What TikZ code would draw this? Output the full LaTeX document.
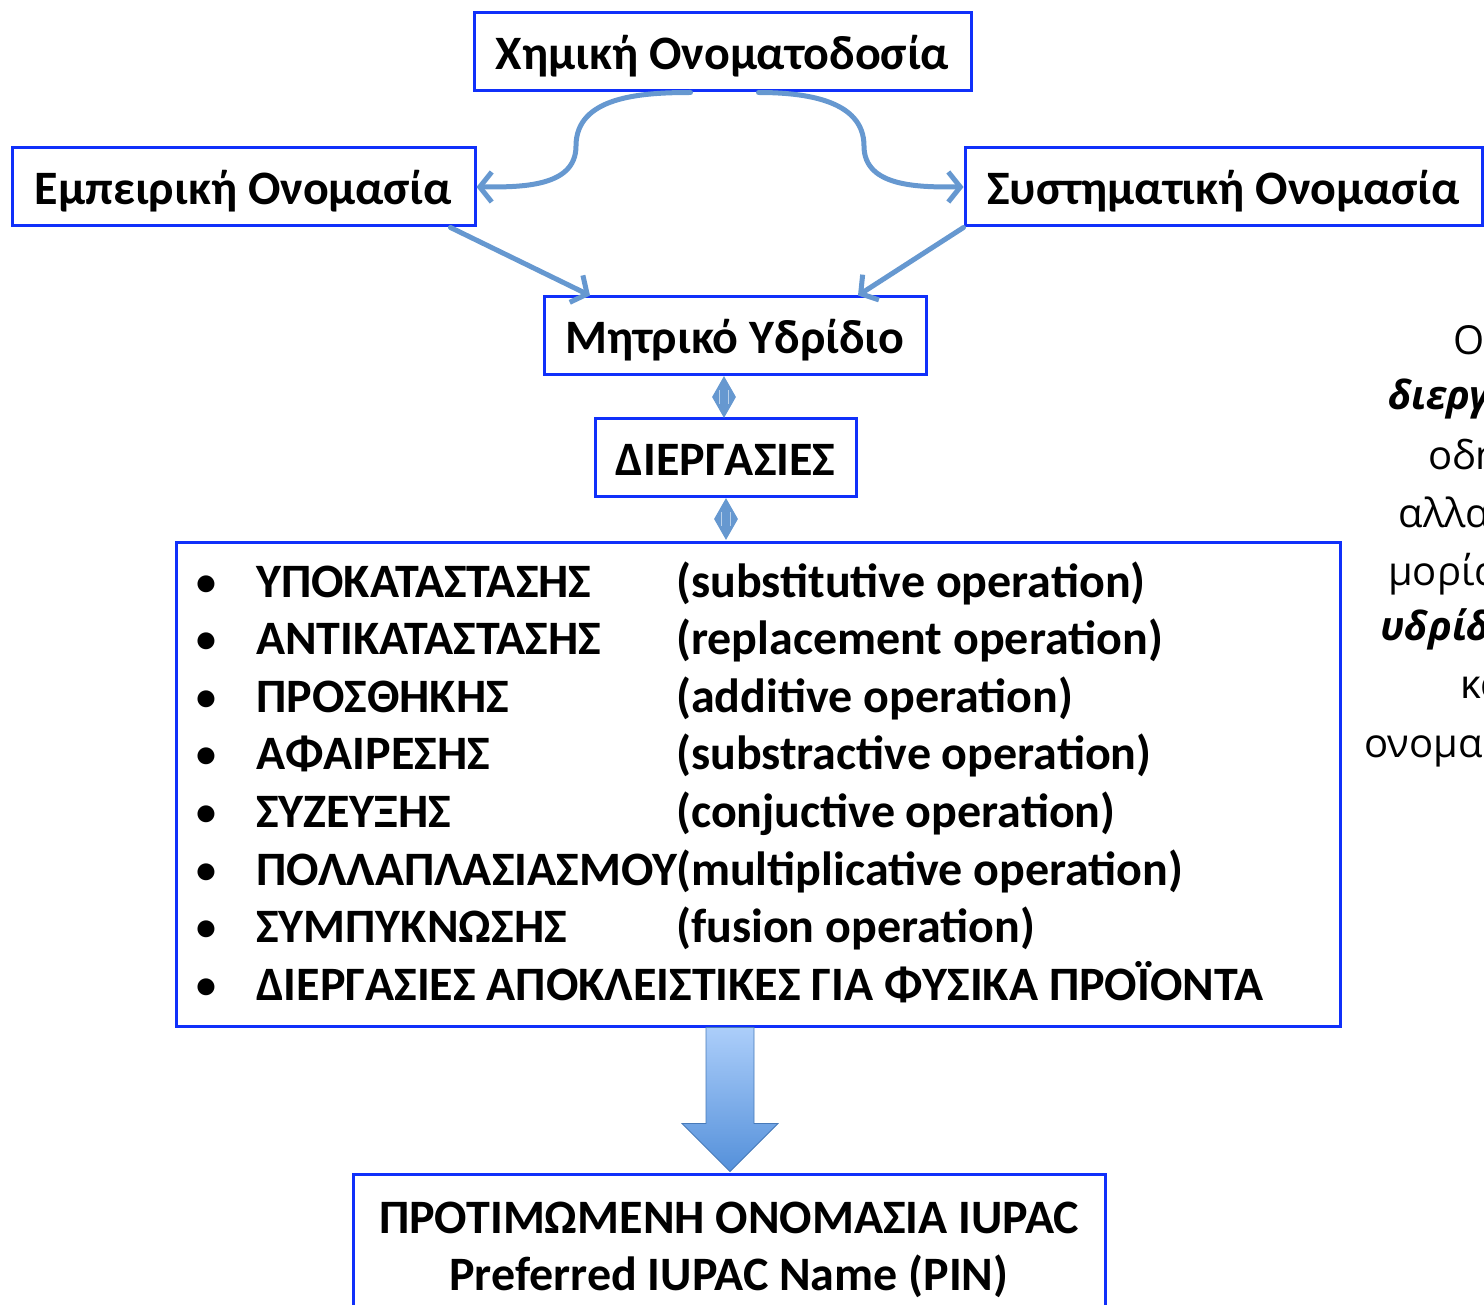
\documentclass[tikz,border=0pt]{standalone}
\usepackage{fontspec}
\setmainfont{Carlito}
\newfontfamily\sidefont{Open Sans}
\usetikzlibrary{positioning,arrows.meta,shapes.geometric}

\definecolor{boxblue}{RGB}{16,48,250}
\definecolor{connblue}{RGB}{102,152,208}
\definecolor{arrtop}{RGB}{172,206,250}
\definecolor{arrbot}{RGB}{84,144,218}

\tikzset{
  box/.style={draw=boxblue, line width=3pt, fill=white, inner sep=0pt,
              text height=35pt, text depth=0pt,
              font=\bfseries\fontsize{48}{54}\selectfont},
  conn/.style={draw=connblue, line width=5pt, line cap=round,
               -{Straight Barb[length=12pt,width=30pt]}},
  updown/.style={diamond, fill=connblue, inner sep=0pt,
                 minimum width=24pt, minimum height=42pt},
  item/.style={anchor=base west, inner sep=0pt,
               font=\bfseries\fontsize{48}{54}\selectfont},
  bullet/.style={anchor=base west, inner sep=0pt,
               font=\bfseries\fontsize{40}{54}\selectfont},
  side/.style={anchor=base west, inner sep=0pt,
               font=\sidefont\fontsize{40}{48}\selectfont}
}

\begin{document}
\begin{tikzpicture}[x=1pt,y=-1pt]
  \clip (0,0) rectangle (1484,1305);
  \useasboundingbox (0,0) rectangle (1484,1305);

  % boxes
  \node[box, minimum width=497pt, minimum height=78pt] (title)  at (722.5,52)  {Χημική Ονοματοδοσία};
  \node[box, minimum width=463pt, minimum height=78pt] (empir)  at (243.5,187) {Εμπειρική Ονομασία};
  \node[box, minimum width=517pt, minimum height=78pt] (syst)   at (1223.5,187) {Συστηματική Ονομασία};
  \node[box, minimum width=382pt, minimum height=78pt] (parent) at (735,336)   {Μητρικό Υδρίδιο};
  \node[box, minimum width=261pt, minimum height=78pt] (proc)   at (725.5,458) {ΔΙΕΡΓΑΣΙΕΣ};
  \node[box, minimum width=1164pt, minimum height=484pt] (list) at (758,784)   {};
  \node[box, anchor=north, minimum width=752pt, minimum height=150pt,
        align=center, text height=, text depth=,
        font=\bfseries\fontsize{48}{57}\selectfont] (pin) at (729,1173)
        {ΠΡΟΤΙΜΩΜΕΝΗ ΟΝΟΜΑΣΙΑ IUPAC\\Preferred IUPAC Name (PIN)};

  % list of operations
  \foreach \gr/\en [count=\i, evaluate=\i as \y using 597+57.6*(\i-1)] in
    {ΥΠΟΚΑΤΑΣΤΑΣΗΣ/(substitutive operation),
     ΑΝΤΙΚΑΤΑΣΤΑΣΗΣ/(replacement operation),
     ΠΡΟΣΘΗΚΗΣ/(additive operation),
     ΑΦΑΙΡΕΣΗΣ/(substractive operation),
     ΣΥΖΕΥΞΗΣ/(conjuctive operation),
     ΠΟΛΛΑΠΛΑΣΙΑΣΜΟΥ/(multiplicative operation),
     ΣΥΜΠΥΚΝΩΣΗΣ/(fusion operation)}
  {
    \node[bullet] (bul\i) at (196,\y-2) {•};
    \node[item] (gr\i)  at (256,\y) {\gr};
    \node[item] (en\i)  at (676,\y) {\en};
  }
  \node[bullet] (bul8) at (196,998) {•};
  \node[item] (gr8)  at (256,1000) {ΔΙΕΡΓΑΣΙΕΣ ΑΠΟΚΛΕΙΣΤΙΚΕΣ ΓΙΑ ΦΥΣΙΚΑ ΠΡΟΪΟΝΤΑ};

  % connectors
  \draw[conn] ([xshift=-32pt]title.south) to[out=180,in=90] (576,146)
              to[out=-90,in=0] (empir.east);
  \draw[conn] ([xshift=36pt]title.south) to[out=0,in=90] (864,146)
              to[out=-90,in=180] (syst.west);
  \draw[conn] ([xshift=-26pt]empir.south east) -- ([xshift=-145pt]parent.north);
  \draw[conn] (syst.south west) -- ([xshift=123pt]parent.north);

  % double arrows
  \node[updown] (dia1) at (724,397) {};
  \node[updown] (dia2) at (726,519) {};
  \foreach \d in {dia1,dia2}
    \foreach \s in {-4.5,4.5}
      \draw[white!55!connblue, line width=1.5pt]
        ([xshift=\s pt, yshift=-14pt]\d.north) -- ([xshift=\s pt, yshift=14pt]\d.south);

  % big arrow to the PIN box
  \coordinate (shaft) at ([xshift=-28pt]list.south);
  \shade[top color=arrtop, bottom color=arrbot, draw=arrbot!85!black, line width=0.8pt]
    ([xshift=-24pt]shaft) -- ++(0,96) -- ++(-24,0) -- ++(48,48) -- ++(48,-48)
    -- ++(-24,0) -- ([xshift=24pt]shaft) -- cycle;

  % side text, cut by the edge
  \node[side] (s1) at (1453,355) {Ο};
  \node[side, font=\sidefont\bfseries\itshape\fontsize{40}{48}\selectfont] (s2) at (1388,410) {διεργ};
  \node[side] (s3) at (1428,470) {οδη};
  \node[side] (s4) at (1398,527) {αλλα};
  \node[side] (s5) at (1388,585) {μορία};
  \node[side, font=\sidefont\bfseries\itshape\fontsize{40}{48}\selectfont] (s6) at (1380,640) {υδρίδ};
  \node[side] (s7) at (1460,698) {κα};
  \node[side] (s8) at (1364,757) {ονομα};
\end{tikzpicture}
\end{document}
